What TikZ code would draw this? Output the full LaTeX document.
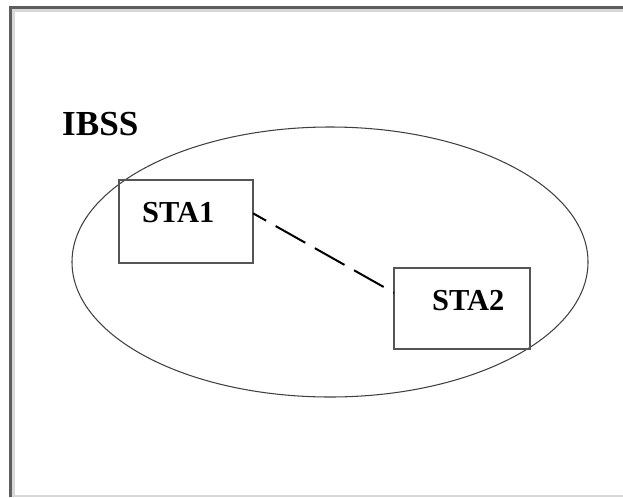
\documentclass[tikz,border=0pt]{standalone}
\usepackage{fontspec}
\setmainfont{Liberation Serif}
\usepackage{tikz}
\usetikzlibrary{positioning}

\definecolor{framedark}{HTML}{5E5E5E}
\definecolor{framelight}{HTML}{D8D8D8}
\definecolor{boxgray}{HTML}{555555}

\begin{document}
\begin{tikzpicture}[x=0.03cm,y=-0.03cm,
    stabox/.style={draw=boxgray,line width=1.7pt,inner sep=0pt,outer sep=0pt,anchor=north west},
    lbl/.style={font=\fontsize{26}{30}\selectfont\bfseries,inner sep=0pt,anchor=base west}]
    \useasboundingbox (0,0) rectangle (623,497);
    % sunken frame
    \draw[framedark,line width=2.6pt] (10.5,497) |- (623,7.5);
    \draw[framelight,line width=2.6pt] (13.5,497) |- (623,10.5);
    \draw[framelight,line width=1.8pt] (13.5,496) -- (623,496);
    % the IBSS
    \draw[black!75,line width=0.9pt] (330,262) ellipse [x radius=258,y radius=135];
    \node [lbl,font=\fontsize{30}{34}\selectfont\bfseries] (ibss) at (62,135) {IBSS};
    % stations
    \node [stabox,minimum width=4.02cm,minimum height=2.49cm] (sta1) at (119,180) {};
    \node [stabox,minimum width=4.08cm,minimum height=2.43cm] (sta2) at (394,268) {};
    \node [lbl] (sta1text) at (142,222) {STA1};
    \node [lbl] (sta2text) at (432,310) {STA2};
    \draw [line width=1.7pt,dash pattern=on 1.02cm off 0.33cm,dash phase=0.57cm] (sta1.7) -- (sta2.167);
\end{tikzpicture}
\end{document}
